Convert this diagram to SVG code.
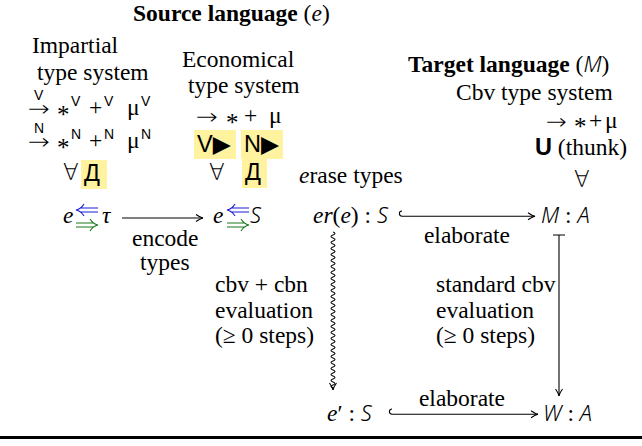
<svg xmlns="http://www.w3.org/2000/svg" width="642" height="446" viewBox="0 0 642 446">
<defs>
<style>
text{font-family:"Liberation Serif","DejaVu Serif",serif;font-size:23.5px;fill:#000}
.b{font-weight:bold}
.i{font-style:italic}
.s{font-family:"Liberation Sans","DejaVu Sans",sans-serif}
.sup{font-family:"Liberation Sans","DejaVu Sans",sans-serif;font-size:14px}
.m{font-family:"Noto Sans","DejaVu Sans",sans-serif;font-style:italic;font-size:22px;font-weight:300}
.sym{font-family:"DejaVu Sans",sans-serif;font-weight:200;font-size:23px}
.arr{font-family:"DejaVu Sans",sans-serif;font-weight:200;font-size:22px}
.ast{font-family:"Liberation Serif",serif;font-size:25px}
.hl{fill:#fff3a0}
.ln{fill:none;stroke:#000;stroke-width:1.1}
.blue{fill:none;stroke:#1a1adc;stroke-width:1.1}
.green{fill:none;stroke:#1a7a1a;stroke-width:1.1}
</style>
<marker id="ah" viewBox="-8 -5 10 10" refX="0" refY="0" markerWidth="10" markerHeight="10" markerUnits="userSpaceOnUse" orient="auto">
<path d="M-7,-3.5 Q-3,-0.6 0,0 Q-3,0.6 -7,3.5" fill="none" stroke="#000" stroke-width="1.1"/>
</marker>
</defs>
<rect width="642" height="446" fill="#fff"/>

<g id="titles">
<text x="133" y="21" class="b">Source language <tspan font-weight="normal">(</tspan><tspan class="i" font-weight="normal">e</tspan><tspan font-weight="normal">)</tspan></text>
<text x="408" y="72" class="b">Target language <tspan font-weight="normal">(</tspan><tspan class="m" font-weight="normal">M</tspan><tspan font-weight="normal">)</tspan></text>
</g>

<g id="impartial">
<text x="32" y="53">Impartial</text>
<text x="37" y="80">type system</text>
<text x="28" y="116" class="arr" textLength="22" lengthAdjust="spacingAndGlyphs">→</text><text x="34" y="100" class="sup">V</text>
<text x="57" y="123" class="ast">*</text><text x="71" y="106" class="sup">V</text>
<text x="89" y="115">+</text><text x="104" y="106" class="sup">V</text>
<text x="127" y="115">μ</text><text x="141" y="106" class="sup">V</text>
<text x="28" y="149" class="arr" textLength="22" lengthAdjust="spacingAndGlyphs">→</text><text x="34" y="133" class="sup">N</text>
<text x="57" y="156" class="ast">*</text><text x="71" y="139" class="sup">N</text>
<text x="89" y="148">+</text><text x="104" y="139" class="sup">N</text>
<text x="127" y="148">μ</text><text x="141" y="139" class="sup">N</text>
<text x="63" y="180" class="sym">∀</text>
<rect x="81" y="160" width="26" height="29" class="hl"/>
<text x="84" y="181" class="s">Д</text>
</g>

<g id="economical">
<text x="182" y="67">Economical</text>
<text x="188" y="93">type system</text>
<text x="196" y="124" class="arr" textLength="22" lengthAdjust="spacingAndGlyphs">→</text><text x="226" y="131" class="ast">*</text><text x="244" y="123">+</text><text x="269" y="123">μ</text>
<rect x="194" y="130" width="42" height="29" class="hl"/>
<text x="197" y="152" class="s">V▶</text>
<rect x="241" y="130" width="42" height="29" class="hl"/>
<text x="244" y="152" class="s">N▶</text>
<text x="209" y="180" class="sym">∀</text>
<rect x="242" y="159" width="25" height="29" class="hl"/>
<text x="245" y="180" class="s">Д</text>
</g>

<g id="cbv">
<text x="456" y="100">Cbv type system</text>
<text x="546" y="129" class="arr" textLength="21" lengthAdjust="spacingAndGlyphs">→</text><text x="574" y="135" class="ast">*</text><text x="589" y="128">+</text><text x="605" y="128">μ</text>
<text x="535" y="155"><tspan class="s b">U</tspan> (thunk)</text>
<text x="574" y="187" class="sym">∀</text>
</g>

<g id="n-typed-impartial">
<text x="63" y="223" class="i">e</text>
<text x="102" y="223" class="i">τ</text>
<path class="blue" d="M80,208 H98 M80,212 H98 M84,204 Q81,209 76,210 Q81,211 84,216"/>
<path class="green" d="M76,223 H94 M76,227 H94 M90,219 Q93,224 98,225 Q93,226 90,231"/>
</g>

<g id="n-typed-economical">
<text x="213" y="223" class="i">e</text>
<text x="250" y="223" class="m">S</text>
<path class="blue" d="M231,208 H249 M231,212 H249 M235,204 Q232,209 227,210 Q232,211 235,216"/>
<path class="green" d="M227,223 H245 M227,227 H245 M241,219 Q244,224 249,225 Q244,226 241,231"/>
</g>

<g id="n-erase">
<text x="299" y="183"><tspan class="i">e</tspan>rase types</text>
<text x="313" y="223"><tspan class="i">er</tspan>(<tspan class="i">e</tspan>) : <tspan class="m">S</tspan></text>
</g>

<g id="n-target">
<text x="541" y="223"><tspan class="m">M</tspan> : <tspan class="m">A</tspan></text>
</g>

<g id="n-eprime">
<text x="327" y="421"><tspan class="i">e</tspan>′ : <tspan class="m">S</tspan></text>
</g>

<g id="n-value">
<text x="543" y="421"><tspan class="m">W</tspan> : <tspan class="m">A</tspan></text>
</g>

<g id="connectors">
<path class="ln" d="M122,218 H203" marker-end="url(#ah)"/>
<path class="ln" d="M402,211 A2.6,2.6 0 0 0 402,216.2 H535" marker-end="url(#ah)"/>
<path class="ln" d="M392,409 A2.6,2.6 0 0 0 392,414.2 H538" marker-end="url(#ah)"/>
<path class="ln" d="M553,235 H565 M559,235 V396" marker-end="url(#ah)"/>
<path class="ln" d="M333,232 q4,1.5 0,3 t0,3 t0,3 t0,3 t0,3 t0,3 t0,3 t0,3 t0,3 t0,3 t0,3 t0,3 t0,3 t0,3 t0,3 t0,3 t0,3 t0,3 t0,3 t0,3 t0,3 t0,3 t0,3 t0,3 t0,3 t0,3 t0,3 t0,3 t0,3 t0,3 t0,3 t0,3 t0,3 t0,3 t0,3 t0,3 t0,3 t0,3 t0,3 t0,3 t0,3 t0,3 t0,3 t0,3 t0,3 t0,3 t0,3 t0,3 t0,3 t0,3 t0,3 t0,3 l0,2" marker-end="url(#ah)"/>
</g>

<g id="labels">
<text x="132" y="246">encode</text>
<text x="140" y="270">types</text>
<text x="467" y="243" text-anchor="middle">elaborate</text>
<text x="462" y="406" text-anchor="middle">elaborate</text>
<text x="215" y="292">cbv + cbn</text>
<text x="215" y="318">evaluation</text>
<text x="215" y="343">(≥ 0 steps)</text>
<text x="436" y="292">standard cbv</text>
<text x="436" y="318">evaluation</text>
<text x="436" y="343">(≥ 0 steps)</text>
</g>

<rect x="0" y="436" width="642" height="3" fill="#000"/>
</svg>
